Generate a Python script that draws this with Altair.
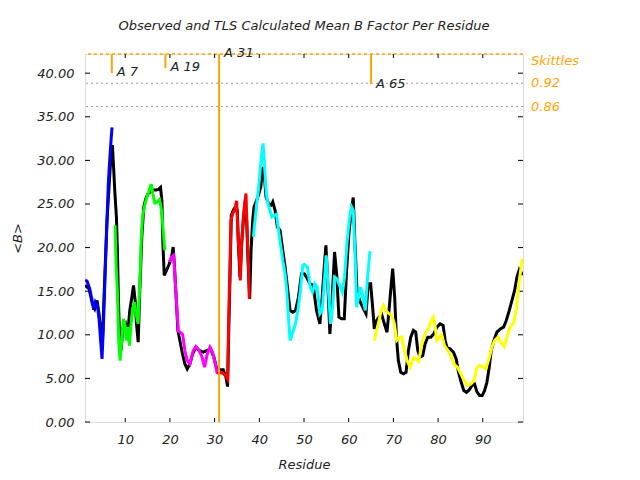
import altair as alt
import pandas as pd

# ---------------- data ----------------
obs_res = [1.0, 1.9, 2.64, 3.17, 3.69, 4.14, 4.66, 4.85, 5.48, 5.93, 6.38, 6.83, 7.13, 7.43, 7.65,
           8.03, 8.25, 8.47, 8.77, 9.07, 9.52, 10.05, 10.5, 11.02, 11.48, 11.85, 12.22, 12.52, 12.9,
           13.26, 13.71, 14.15, 14.6, 15.13, 15.65, 16.25, 16.85, 17.38, 17.9, 18.2, 18.43, 18.73,
           19.26, 19.86, 20.36, 20.73, 21.03, 21.4, 21.78, 22.22, 22.82, 23.35, 23.87, 24.47, 25.07,
           25.8, 26.56, 27.46, 28.35, 29.1, 29.85, 30.45, 31.19, 31.94, 32.54, 32.9, 33.2, 33.5,
           33.73, 34.18, 34.63, 35.08, 35.38, 35.68, 36.05, 36.43, 36.87, 37.17, 37.47, 37.85, 38.15,
           38.52, 38.82, 39.27, 39.8, 40.32, 40.77, 41.14, 41.51, 42.03, 42.63, 43.01, 43.53, 44.05,
           44.65, 45.25, 45.77, 46.29, 46.89, 47.49, 48.09, 48.76, 49.44, 50.04, 50.56, 51.31, 52.06,
           52.8, 53.55, 54.07, 54.52, 54.9, 55.27, 55.79, 56.32, 56.84, 57.36, 57.81, 58.41, 59.01,
           59.53, 60.05, 60.58, 61.02, 61.4, 61.85, 62.44, 63.12, 63.87, 64.39, 64.91, 65.36, 65.73,
           66.26, 66.78, 67.38, 67.98, 68.57, 69.02, 69.4, 69.84, 70.29, 70.67, 71.11, 71.64, 72.24,
           72.83, 73.36, 73.88, 74.48, 75.0, 75.45, 75.97, 76.57, 77.09, 77.69, 78.36, 79.04, 79.71,
           80.46, 81.13, 81.58, 82.03, 82.7, 83.45, 84.05, 84.57, 85.17, 85.76, 86.36, 86.96, 87.56,
           88.16, 88.68, 89.28, 89.87, 90.4, 90.92, 91.44, 91.89, 92.49, 93.16, 93.91, 94.66, 95.26,
           95.93, 96.53, 97.12, 97.65, 98.17, 98.77, 99.0]
obs_b = [15.67, 15.28, 13.56, 12.98, 13.94, 12.41, 9.73, 8.5, 17.4, 23.1, 26.96, 30.8, 31.76, 28.88,
         26.6, 23.5, 19.7, 14.3, 8.96, 8.2, 10.88, 11.26, 9.73, 12.79, 14.3, 15.67, 13.94, 11.26, 9.15,
         15.1, 21.2, 24.65, 25.6, 26.2, 26.4, 26.6, 26.6, 26.66, 26.9, 25.4, 20.45, 16.8, 17.4, 18.15,
         18.9, 20.07, 17.77, 14.3, 10.5, 9.34, 7.8, 6.66, 6.09, 6.66, 7.8, 8.58, 8.2, 8.0, 8.2, 8.39,
         7.42, 6.09, 5.98, 5.98, 5.13, 4.06, 11.26, 17.77, 23.7, 24.3, 24.66, 24.3, 19.7, 16.6, 20.45,
         23.1, 25.4, 23.1, 18.5, 14.1, 19.7, 23.1, 24.67, 25.24, 26.0, 26.96, 29.26, 28.1, 25.8, 25.05,
         24.86, 25.24, 24.28, 22.36, 21.98, 19.68, 17.77, 15.47, 12.79, 12.6, 12.79, 14.3, 17.0, 17.0,
         16.62, 15.86, 15.67, 12.79, 11.26, 14.32, 17.77, 20.26, 16.62, 10.11, 14.32, 19.5, 16.62,
         12.02, 11.83, 11.83, 17.39, 21.6, 24.28, 25.74, 20.45, 15.09, 13.94, 13.17, 12.41, 15.86,
         15.86, 13.17, 10.68, 11.64, 12.02, 12.33, 11.26, 10.3, 12.79, 15.09, 17.58, 14.32, 9.73, 7.04,
         5.7, 5.52, 5.7, 8.2, 9.73, 10.5, 10.3, 8.2, 7.42, 7.62, 8.96, 9.73, 9.73, 10.11, 10.88, 11.26,
         11.07, 9.34, 8.5, 8.39, 8.0, 7.24, 5.7, 4.55, 3.6, 3.4, 3.67, 4.17, 4.36, 3.48, 3.03, 3.03,
         3.6, 4.55, 6.28, 8.2, 9.34, 10.3, 10.68, 10.88, 11.64, 12.79, 13.94, 15.09, 16.62, 17.47,
         17.0, 16.9]

# TLS calculated <B>, one list per TLS group
tls1_res = [1.0, 1.45, 2.05, 2.57, 2.94, 3.32, 3.77, 4.14, 4.44, 4.81, 5.11, 5.33, 5.56, 5.78, 6.0,
            6.23, 6.53, 6.83, 7.05]
tls1_b = [16.24, 16.17, 15.28, 14.02, 12.87, 13.75, 13.37, 11.84, 9.73, 7.24, 10.88, 14.32, 17.77,
          21.22, 24.28, 27.54, 30.03, 32.33, 33.79]
tls2_res = [7.73, 7.95, 8.25, 8.55, 8.85, 9.22, 9.6, 9.97, 10.27, 10.57, 10.94, 11.31, 11.69, 12.06,
            12.44, 12.88, 13.26, 13.56, 13.86, 14.3, 14.75, 15.27, 15.8, 16.17, 16.62, 17.15, 17.67,
            18.12, 18.49, 18.86]
tls2_b = [22.57, 18.16, 14.9, 9.34, 7.04, 9.34, 11.84, 11.07, 9.34, 10.88, 8.77, 11.26, 12.98, 13.75,
          12.41, 11.26, 15.86, 20.83, 23.5, 24.67, 25.63, 26.39, 27.28, 26.2, 25.13, 25.24, 25.51,
          24.28, 21.98, 19.68]
tls3_res = [19.86, 20.38, 20.83, 21.13, 21.5, 21.88, 22.33, 22.85, 23.35, 23.87, 24.47, 25.22, 25.81,
            26.41, 27.08, 27.76, 28.35, 28.95, 29.55, 30.07, 30.6]
tls3_b = [18.35, 18.92, 19.11, 16.62, 13.56, 10.41, 10.3, 10.03, 8.2, 7.04, 6.66, 8.2, 8.66, 8.27,
          7.62, 6.28, 7.8, 8.58, 8.0, 6.86, 5.51]
tls4_res = [30.6, 31.34, 32.09, 32.69, 32.91, 33.14, 33.36, 33.66, 34.04, 34.48, 34.93, 35.23, 35.53,
            35.75, 36.05, 36.43, 36.73, 37.02, 37.25, 37.55, 37.77]
tls4_b = [5.51, 5.7, 5.51, 5.13, 4.94, 11.64, 16.24, 23.13, 23.9, 24.28, 25.36, 21.22, 18.92, 16.24,
          20.45, 23.5, 25.05, 26.2, 22.37, 18.54, 14.14]
tls5_res = [38.67, 39.04, 39.42, 39.79, 40.16, 40.54, 40.84, 41.14, 41.44, 41.81, 42.26, 42.78, 43.3,
            43.83, 44.2, 44.73, 45.25, 45.77, 46.14, 46.52, 46.89, 47.49, 48.09, 48.68, 49.2, 49.73,
            50.04, 50.79, 51.38, 51.91, 52.43, 52.95, 53.55, 54.07, 54.52, 54.97, 55.42, 55.94, 56.39,
            56.84, 57.36, 57.96, 58.56, 59.08, 59.6, 60.13, 60.65, 61.02, 61.4, 61.77, 62.22, 62.67,
            63.19, 63.72, 64.16, 64.76]
tls5_b = [21.22, 23.13, 25.05, 26.58, 28.69, 30.8, 31.95, 29.65, 26.97, 25.24, 24.48, 23.52, 23.71,
          23.82, 22.37, 20.45, 18.54, 17.0, 15.09, 12.02, 9.34, 10.3, 11.26, 12.98, 15.09, 17.96,
          18.07, 17.77, 15.47, 14.9, 15.86, 15.47, 12.41, 12.79, 15.86, 19.11, 15.47, 11.26, 13.17,
          16.62, 16.43, 15.67, 14.9, 16.62, 20.45, 23.13, 24.67, 24.28, 19.68, 13.17, 14.32, 15.47,
          14.32, 12.79, 16.24, 19.6]
tls6_res = [65.73, 66.26, 66.78, 67.23, 67.75, 68.27, 68.87, 69.62, 70.22, 70.74, 71.26, 71.86, 72.46,
            73.13, 73.73, 74.48, 75.08, 75.67, 76.35, 77.09, 77.84, 78.44, 78.96, 79.34, 79.71, 80.31,
            80.83, 81.43, 82.1, 82.85, 83.6, 84.34, 85.09, 85.84, 86.59, 87.33, 88.08, 88.6, 89.2,
            89.95, 90.7, 91.37, 92.04, 92.64, 93.39, 94.06, 94.81, 95.4, 96.08, 96.83, 97.5, 98.1,
            98.77, 99.0]
tls6_b = [9.34, 10.5, 11.64, 12.67, 13.37, 12.79, 12.48, 12.21, 11.26, 9.34, 9.61, 9.73, 8.2, 6.97,
          6.28, 7.35, 7.24, 6.97, 8.96, 10.11, 10.68, 11.56, 12.02, 10.95, 9.34, 9.73, 10.03, 8.77,
          8.27, 7.62, 6.59, 6.28, 5.51, 4.75, 4.17, 4.36, 4.75, 6.09, 6.47, 6.36, 6.09, 7.24, 8.58,
          9.34, 9.73, 9.16, 8.66, 9.73, 10.88, 11.26, 12.98, 15.86, 18.54, 18.7]

tls_names = ["TLS 1", "TLS 2", "TLS 3", "TLS 4", "TLS 5", "TLS 6"]
tls_colors = ["#0000FF", "#00FF00", "#FF00FF", "#FF0000", "#00FFFF", "#FFFF00"]

# TLS group boundaries (Skittles)
break_res = [7, 19, 31, 65]
break_labels = ["A 7", "A 19", "A 31", "A 65"]
break_bottom = [40.0, 40.57, 0.0, 38.77]
break_label_b = [40.1, 40.7, 42.3, 38.8]

skittles_text = ["Skittles", "0.92", "0.86"]
skittles_b = [41.4, 38.85, 36.17]
skittles_lines = [38.85, 36.17]

y_ticks = [0, 5, 10, 15, 20, 25, 30, 35, 40]
x_ticks = [10, 20, 30, 40, 50, 60, 70, 80, 90]

TITLE = "Observed and TLS Calculated Mean B Factor Per Residue"
X_DOMAIN = [1, 99]
Y_TOP = 42.2
W, H = 438, 368
FONT = "DejaVu Sans"
ORANGE = "#FFA500"
LW = 3

# ---------------- tables ----------------
obs_df = pd.DataFrame({"res": obs_res, "b": obs_b})
tls_df = pd.concat([
    pd.DataFrame({"res": r, "b": b, "group": n})
    for r, b, n in zip([tls1_res, tls2_res, tls3_res, tls4_res, tls5_res, tls6_res],
                       [tls1_b, tls2_b, tls3_b, tls4_b, tls5_b, tls6_b], tls_names)
])
break_df = pd.DataFrame({"res": break_res, "top": [Y_TOP] * 4, "bottom": break_bottom,
                         "label": break_labels, "lb": break_label_b})
sk_df = pd.DataFrame({"text": skittles_text, "b": skittles_b})
skl_df = pd.DataFrame({"b": skittles_lines})
top_df = pd.DataFrame({"b": [Y_TOP]})
yt_df = pd.DataFrame({"b": y_ticks})
xt_df = pd.DataFrame({"res": x_ticks})
title_df = pd.DataFrame({"t": [TITLE]})

xs = alt.Scale(domain=X_DOMAIN, nice=False, zero=False)
ys = alt.Scale(domain=[0, Y_TOP], nice=False, zero=True)

x_axis = alt.Axis(values=x_ticks, title="Residue", grid=False, domain=False, ticks=False,
                  labelPadding=11, titlePadding=12, labelFont=FONT, labelFontSize=13,
                  labelFontStyle="italic", labelColor="#222222", titleFont=FONT,
                  titleFontSize=13, titleFontStyle="italic", titleFontWeight="normal",
                  titleColor="#222222")
y_axis = alt.Axis(values=y_ticks, format=".2f", title="<B>", grid=False, domain=False, ticks=False,
                  labelPadding=11, titlePadding=12, labelFont=FONT, labelFontSize=13,
                  labelFontStyle="italic", labelColor="#222222", titleFont=FONT,
                  titleFontSize=13, titleFontStyle="italic", titleFontWeight="normal",
                  titleColor="#222222")

X = lambda f="res": alt.X(f"{f}:Q", scale=xs, axis=x_axis)
Y = lambda f="b": alt.Y(f"{f}:Q", scale=ys, axis=y_axis)

gray_lines = alt.Chart(skl_df).mark_rule(color="#999999", strokeDash=[2, 3], strokeWidth=1).encode(y=Y())
top_line = alt.Chart(top_df).mark_rule(color=ORANGE, strokeDash=[3, 3], strokeWidth=1.5).encode(y=Y())

obs_line = alt.Chart(obs_df).mark_line(color="black", strokeWidth=LW, clip=True).encode(
    x=X(), y=Y(), order="res:Q")
tls_line = alt.Chart(tls_df).mark_line(strokeWidth=LW, clip=True).encode(
    x=X(), y=Y(), order="res:Q",
    color=alt.Color("group:N", scale=alt.Scale(domain=tls_names, range=tls_colors), legend=None))

break_rules = alt.Chart(break_df).mark_rule(color=ORANGE, strokeWidth=2).encode(
    x=X(), y=Y("top"), y2="bottom:Q")
break_text = alt.Chart(break_df).mark_text(align="left", baseline="middle", dx=5, font=FONT,
                                           fontSize=13, fontStyle="italic", color="#222222").encode(
    x=X(), y=Y("lb"), text="label:N")

sk_text = alt.Chart(sk_df).mark_text(align="left", baseline="middle", font=FONT, fontSize=13,
                                     fontStyle="italic", color=ORANGE).encode(
    x=alt.value(W + 8), y=Y(), text="text:N")

title_text = alt.Chart(title_df).mark_text(align="center", baseline="middle", font=FONT,
                                           fontSize=13, fontStyle="italic", color="#222222").encode(
    x=alt.value(W / 2), y=alt.value(-28), text="t:N")

left_ticks = alt.Chart(yt_df).mark_rule(color="black", strokeWidth=1).encode(
    y=Y(), x=alt.value(0), x2=alt.value(5))
right_ticks = alt.Chart(yt_df).mark_rule(color="black", strokeWidth=1).encode(
    y=Y(), x=alt.value(W - 5), x2=alt.value(W))
bottom_ticks = alt.Chart(xt_df).mark_rule(color="black", strokeWidth=1).encode(
    x=X(), y=alt.value(H - 4), y2=alt.value(H))
top_ticks = alt.Chart(xt_df).mark_rule(color="black", strokeWidth=1).encode(
    x=X(), y=alt.value(0), y2=alt.value(4))

chart = alt.layer(
    gray_lines, top_line, left_ticks, right_ticks, bottom_ticks, top_ticks,
    obs_line, tls_line, break_rules, break_text, sk_text, title_text
).properties(
    width=W, height=H,
    padding={"left": 77, "top": 46, "right": 100, "bottom": 50},
    autosize=alt.AutoSizeParams(type="none"),
).configure_view(stroke="black", strokeWidth=1).configure(background="white")

chart.save("out.html", embed_options={"renderer": "svg", "actions": False})
